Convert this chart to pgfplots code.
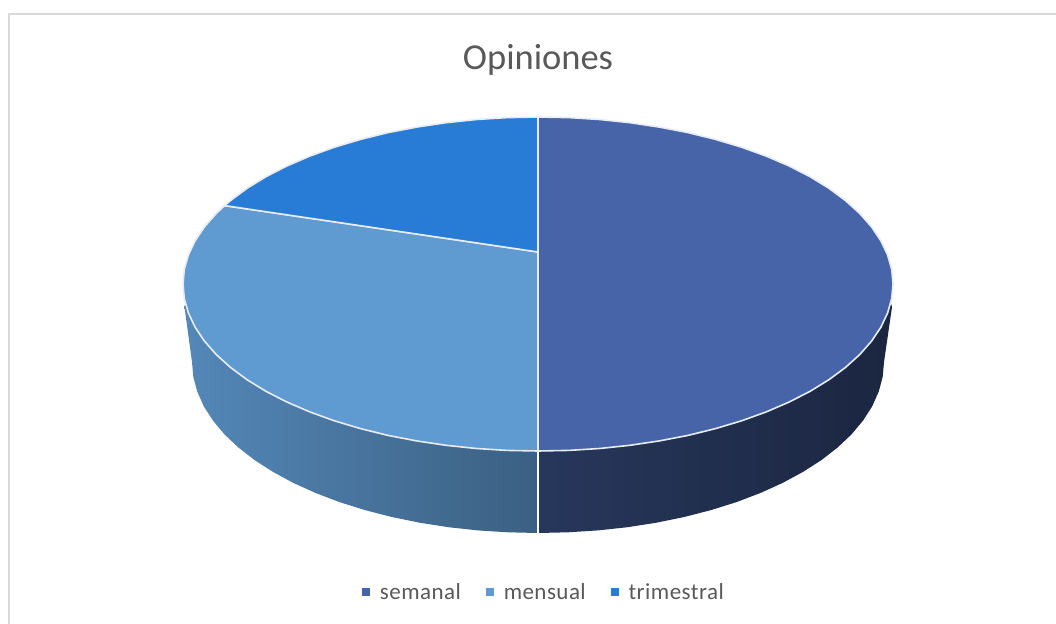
\documentclass[border=0pt]{standalone}
\usepackage{fontspec}
\setmainfont{Carlito}
\usepackage{pgfplots}
\pgfplotsset{compat=1.18}
\definecolor{semanal}{HTML}{4764A8}
\definecolor{mensual}{HTML}{5F9AD1}
\definecolor{trimestral}{HTML}{297CD6}
\definecolor{txt}{HTML}{595959}
\definecolor{rimline}{HTML}{E8ECF4}
\begin{document}
\begin{tikzpicture}
\useasboundingbox (0,0) rectangle (1056bp,624bp);
\begin{axis}[
  scale only axis, width=1056bp, height=624bp,
  xmin=0, xmax=1056, ymin=0, ymax=624, y dir=reverse,
  hide axis,
  title={Opiniones},
  title style={at={(axis cs:538,66)}, anchor=center, font=\fontsize{36.5bp}{38bp}\selectfont, text=txt, inner sep=0pt},
  legend columns=3,
  legend cell align=left,
  legend style={draw=none, fill=none, at={(axis cs:544,592)}, anchor=center,
    font=\fontsize{23bp}{26bp}\selectfont\addfontfeatures{LetterSpace=2}, text=txt,
    /tikz/every even column/.append style={column sep=23bp}},
  legend image code/.code={\path[#1,draw=none] (0bp,-4bp) rectangle (8bp,4bp); \path (15bp,0bp);},
]
% chart frame
\addplot[forget plot, draw=black!15, line width=2bp] coordinates {(8.7,624) (8.7,14) (1056,14)};

% side walls
\addplot[forget plot, draw=none, left color=semanal!55!black, right color=semanal!38!black] coordinates {
(538,300) (890,300) (892,307) (884,362) (882.7,376.9) (878.7,391.7) (872.2,406.3) (863.1,420.5)
(851.6,434.3) (837.6,447.5) (821.4,460.1) (803,471.9) (782.7,482.9) (760.4,493) (736.5,502.1)
(711,510.1) (684.2,517) (656.3,522.7) (627.6,527.2) (598.1,530.4) (568.2,532.3) (538,533) (538,300)};
\addplot[forget plot, draw=none, left color=mensual!88!black, right color=mensual!62!black] coordinates {
(538,300) (186,300) (184.5,307) (192,362) (193.3,376.9) (197.3,391.7) (203.8,406.3) (212.9,420.5)
(224.4,434.3) (238.4,447.5) (254.6,460.1) (273,471.9) (293.3,482.9) (315.6,493) (339.5,502.1)
(365,510.1) (391.8,517) (419.7,522.7) (448.4,527.2) (477.9,530.4) (507.8,532.3) (538,533) (538,300)};
\addplot[forget plot, draw=white, line width=2.5bp] coordinates {(538,451) (538,533)};

% top slices
\addplot[fill=semanal, draw=rimline, line width=1.6bp, line join=round] coordinates {
(538,252) (538,117) (568.9,117.6) (599.6,119.5) (629.9,122.7) (659.4,127.1) (688,132.6) (715.5,139.4)
(741.6,147.2) (766.2,156.1) (789,165.9) (809.9,176.6) (828.8,188.2) (845.4,200.5) (859.7,213.4)
(871.6,226.9) (880.9,240.8) (887.6,255) (891.7,269.4) (893,284) (891.7,298.6) (887.6,313) (880.9,327.2)
(871.6,341.1) (859.7,354.6) (845.4,367.5) (828.8,379.8) (809.9,391.4) (789,402.1) (766.2,411.9)
(741.6,420.8) (715.5,428.6) (688,435.4) (659.4,440.9) (629.9,445.3) (599.6,448.5) (568.9,450.4)
(538,451) (538,252)};
\addlegendentry{semanal}
\addplot[fill=mensual, draw=rimline, line width=1.6bp, line join=round] coordinates {
(538,252) (224.6,205.6) (216.3,213.4) (204.4,226.9) (195.1,240.8) (188.4,255) (184.3,269.4) (183,284)
(184.3,298.6) (188.4,313) (195.1,327.2) (204.4,341.1) (216.3,354.6) (230.6,367.5) (247.2,379.8)
(266.1,391.4) (287,402.1) (309.8,411.9) (334.4,420.8) (360.5,428.6) (388,435.4) (416.6,440.9)
(446.1,445.3) (476.4,448.5) (507.1,450.4) (538,451) (538,252)};
\addlegendentry{mensual}
\addplot[fill=trimestral, draw=rimline, line width=1.6bp, line join=round] coordinates {
(538,252) (538,117) (507.1,117.6) (476.4,119.5) (446.1,122.7) (416.6,127.1) (388,132.6) (360.5,139.4)
(334.4,147.2) (309.8,156.1) (287,165.9) (266.1,176.6) (247.2,188.2) (230.6,200.5) (224.6,205.6) (538,252)};
\addlegendentry{trimestral}
\end{axis}
\end{tikzpicture}
\end{document}
